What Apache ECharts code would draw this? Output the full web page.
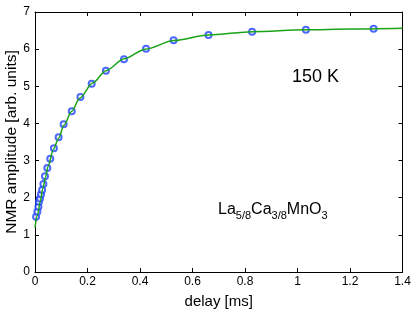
<!DOCTYPE html>
<html>
<head>
<meta charset="utf-8">
<script src="https://cdn.jsdelivr.net/npm/echarts@6/dist/echarts.min.js"></script>
<style>html,body{margin:0;padding:0;background:#fff;}#c{width:415px;height:310px;}</style>
</head>
<body>
<div id="c"></div>
<script>
var delayMs = [0.004, 0.009, 0.013, 0.015, 0.019, 0.023, 0.027, 0.032, 0.038, 0.047, 0.058, 0.072, 0.090, 0.109, 0.140, 0.173, 0.216, 0.270, 0.339, 0.423, 0.528, 0.661, 0.827, 1.032, 1.290];
var amplitude = [1.49, 1.62, 1.76, 1.89, 1.98, 2.09, 2.21, 2.37, 2.58, 2.80, 3.05, 3.33, 3.63, 3.98, 4.33, 4.71, 5.07, 5.42, 5.73, 6.01, 6.24, 6.38, 6.47, 6.52, 6.55];
var fitX = [0, 0.01, 0.02, 0.03, 0.04, 0.05, 0.07, 0.09, 0.11, 0.14, 0.17, 0.22, 0.27, 0.34, 0.42, 0.53, 0.66, 0.83, 1.03, 1.2, 1.4];
var fitY = [1.2, 1.55, 1.9, 2.25, 2.55, 2.85, 3.3, 3.6, 3.95, 4.33, 4.68, 5.09, 5.42, 5.74, 6.0, 6.23, 6.38, 6.47, 6.52, 6.54, 6.56];

var font = 'Liberation Sans, Arial, Helvetica, sans-serif';
var chart = echarts.init(document.getElementById('c'));
function pairs(a, b) { return a.map(function (v, i) { return [v, b[i]]; }); }
var axLine = { show: true, onZero: false, lineStyle: { color: '#000', width: 1 } };
var ticks = { show: true, inside: true, length: 4, lineStyle: { color: '#000' } };
chart.setOption({
  animation: false,
  grid: { left: 35, right: 12.5, top: 12, bottom: 38, containLabel: false, outerBoundsMode: 'none' },
  xAxis: [{
    type: 'value', min: 0, max: 1.4, interval: 0.2,
    axisLine: axLine, axisTick: ticks, splitLine: { show: false },
    axisLabel: { color: '#000', fontSize: 12, fontFamily: font, margin: 4 },
    name: 'delay [ms]', nameLocation: 'middle', nameGap: 22,
    nameTextStyle: { color: '#000', fontSize: 15, fontFamily: font }
  }, {
    type: 'value', position: 'top', min: 0, max: 1.4, interval: 0.2,
    axisLine: axLine, axisTick: ticks, axisLabel: { show: false }, splitLine: { show: false }
  }],
  yAxis: [{
    type: 'value', min: 0, max: 7, interval: 1,
    axisLine: axLine, axisTick: ticks, splitLine: { show: false },
    axisLabel: { color: '#000', fontSize: 12, fontFamily: font, margin: 5 },
    name: 'NMR amplitude [arb. units]', nameLocation: 'middle', nameGap: 15, nameMoveOverlap: false,
    nameTextStyle: { color: '#000', fontSize: 15.5, fontFamily: font }
  }, {
    type: 'value', position: 'right', min: 0, max: 7, interval: 1,
    axisLine: axLine, axisTick: ticks, axisLabel: { show: false }, splitLine: { show: false }
  }],
  graphic: [{
    type: 'text', left: 292, top: 68,
    style: { text: '150 K', font: '18px ' + font, fill: '#000' }
  }, {
    type: 'text', left: 218, top: 202,
    style: {
      text: '{a|La}{s|5/8}{a|Ca}{s|3/8}{a|MnO}{s|3}',
      fill: '#000',
      rich: {
        a: { fontSize: 16, fontFamily: font, fill: '#000', lineHeight: 22, verticalAlign: 'top' },
        s: { fontSize: 11, fontFamily: font, fill: '#000', lineHeight: 22, verticalAlign: 'top', padding: [8, 0, 0, 0] }
      }
    }
  }],
  series: [{
    type: 'scatter', data: pairs(delayMs, amplitude),
    symbol: 'emptyCircle', symbolSize: 6,
    itemStyle: { color: '#2244ff', borderColor: '#2244ff', borderWidth: 1.5 },
    z: 2
  }, {
    type: 'line', data: pairs(fitX, fitY), smooth: 0.3, smoothMonotone: 'x', showSymbol: false,
    lineStyle: { color: '#1aa31a', width: 1.5 }, z: 3
  }]
});
</script>
</body>
</html>
